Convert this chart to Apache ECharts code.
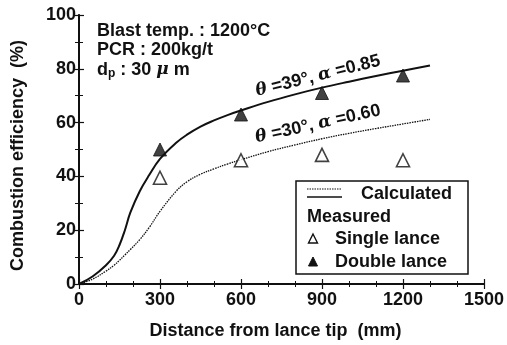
<!DOCTYPE html>
<html>
<head>
<meta charset="utf-8">
<script src="https://cdn.jsdelivr.net/npm/echarts@6/dist/echarts.min.js"></script>
<style>
html,body{margin:0;padding:0;background:#fff;}
#chart{width:507px;height:345px;}
</style>
</head>
<body>
<div id="chart"></div>
<script>
// ---- data ----
const measuredX = [300, 600, 900, 1200];
const singleLance = [39.5, 46, 48, 46];
const doubleLance = [50, 63, 71, 77.5];

const calcX = [0, 50, 100, 130, 150, 170, 190, 225, 260, 300, 360, 400, 450, 500, 550, 600, 700, 800, 900, 1000, 1100, 1200, 1300];
const calc39 = [0, 2.8, 7, 10.5, 14.5, 20, 26.5, 34.5, 40.5, 46.5, 52.5, 55.5, 58.5, 60.8, 62.8, 64.5, 67.7, 70.5, 73, 75.2, 77.3, 79.3, 81.2];
const calc30 = [0, 1.8, 4.8, 7, 8.8, 10.8, 12.8, 16.5, 21, 27, 34.5, 38, 40.8, 42.8, 44.6, 46.2, 49.2, 51.7, 54, 56, 57.8, 59.5, 61.2];

const xTicks = [0, 300, 600, 900, 1200, 1500];
const yTicks = [0, 20, 40, 60, 80, 100];

const condLines = ['Blast temp. : 1200°C', 'PCR : 200kg/t', 'd{sub|p} : 30 {i|μ} m'];
const label39 = '{i|θ} =39°, {i|α} =0.85';
const label30 = '{i|θ} =30°, {i|α} =0.60';

const FONT = '"Liberation Sans", Arial, sans-serif';
const ink = '#111';
const FS = 18;

const zip = (xs, ys) => xs.map((x, i) => [x, ys[i]]);

const chart = echarts.init(document.getElementById('chart'), null, {renderer: 'canvas'});

const commonAxisLine = {show: true, lineStyle: {color: ink, width: 2}};

const option = {
  backgroundColor: '#fff',
  animation: false,
  grid: {left: 79, right: 22, top: 15, bottom: 61, containLabel: false},
  xAxis: [{
    type: 'value', min: 0, max: 1500, interval: 300,
    axisLine: commonAxisLine,
    axisTick: {show: true, inside: true, length: 5, lineStyle: {color: ink, width: 1.2}},
    minorTick: {show: true, splitNumber: 3, length: 3, lineStyle: {color: ink, width: 1}},
    splitLine: {show: false},
    axisLabel: {margin: 7, color: ink, fontFamily: FONT, fontWeight: 'bold', fontSize: FS,
      formatter: v => xTicks.includes(v) ? String(v) : ''},
    name: 'Distance from lance tip  (mm)', nameLocation: 'middle', nameGap: 38,
    nameTextStyle: {color: ink, fontFamily: FONT, fontWeight: 'bold', fontSize: FS, padding: [0, 12, 0, 0]}
  }, {
    type: 'value', position: 'top', min: 0, max: 1500, interval: 300,
    axisLine: {show: true, lineStyle: {color: ink, width: 1.5}},
    axisTick: {show: true, inside: true, length: 5, lineStyle: {color: ink, width: 1.2}},
    minorTick: {show: true, splitNumber: 3, length: 3, lineStyle: {color: ink, width: 1}},
    splitLine: {show: false}, axisLabel: {show: false}
  }],
  yAxis: [{
    type: 'value', min: 0, max: 100, interval: 20,
    axisLine: commonAxisLine,
    axisTick: {show: true, inside: true, length: 5, lineStyle: {color: ink, width: 1.2}},
    minorTick: {show: true, splitNumber: 2, length: 4, lineStyle: {color: ink, width: 1}},
    splitLine: {show: false},
    axisLabel: {margin: 3, color: ink, fontFamily: FONT, fontWeight: 'bold', fontSize: FS,
      formatter: v => yTicks.includes(v) ? String(v) : ''},
    name: 'Combustion efficiency  (%)', nameLocation: 'middle', nameGap: 52,
    nameTextStyle: {color: ink, fontFamily: FONT, fontWeight: 'bold', fontSize: FS, padding: [0, 12, 0, 0]}
  }, {
    type: 'value', position: 'right', min: 0, max: 100, interval: 20,
    axisLine: {show: true, lineStyle: {color: ink, width: 1.5}},
    axisTick: {show: true, inside: true, length: 5, lineStyle: {color: ink, width: 1.2}},
    minorTick: {show: true, splitNumber: 2, length: 4, lineStyle: {color: ink, width: 1}},
    splitLine: {show: false}, axisLabel: {show: false}
  }],
  series: [{
    name: 'θ=39°, α=0.85', type: 'line', data: zip(calcX, calc39), smooth: 0.4,
    symbol: 'none', lineStyle: {color: ink, width: 2}, z: 2
  }, {
    name: 'θ=30°, α=0.60', type: 'line', data: zip(calcX, calc30), smooth: 0.4,
    symbol: 'none', lineStyle: {color: ink, width: 1.3, type: [1.5, 1]}, z: 2
  }, {
    name: 'Single lance', type: 'scatter', data: zip(measuredX, singleLance),
    symbol: 'triangle', symbolSize: 13,
    itemStyle: {color: '#fff', borderColor: ink, borderWidth: 1.6}, z: 3
  }, {
    name: 'Double lance', type: 'scatter', data: zip(measuredX, doubleLance),
    symbol: 'triangle', symbolSize: 13,
    itemStyle: {color: ink, borderColor: ink, borderWidth: 1}, z: 3
  }],
  graphic: []
};

const rich = {
  i: {fontFamily: '"DejaVu Serif", serif', fontStyle: 'italic', fontWeight: 'bold', fontSize: 17, fill: ink},
  sub: {fontFamily: FONT, fontWeight: 'bold', fontSize: 12, fill: ink, padding: [8, 0, 0, 0]}
};

const g = [];
condLines.forEach((t, k) => {
  g.push({type: 'text', x: 97, y: 31 + k * 19.5, z: 10,
    style: {text: t, font: 'bold ' + FS + 'px ' + FONT, fill: ink, textVerticalAlign: 'middle', textAlign: 'left', rich: rich}});
});
g.push({type: 'text', x: 318, y: 76, rotation: 14 * Math.PI / 180, z: 10,
  style: {text: label39, font: 'bold ' + FS + 'px ' + FONT, fill: ink, textAlign: 'center', textVerticalAlign: 'middle', rich: rich}});
g.push({type: 'text', x: 318, y: 124, rotation: 12.5 * Math.PI / 180, z: 10,
  style: {text: label30, font: 'bold ' + FS + 'px ' + FONT, fill: ink, textAlign: 'center', textVerticalAlign: 'middle', rich: rich}});

// legend box
g.push({type: 'rect', z: 10, shape: {x: 296, y: 181, width: 172, height: 93},
  style: {fill: '#fff', stroke: ink, lineWidth: 1.5}});
g.push({type: 'line', z: 11, shape: {x1: 307, y1: 189, x2: 342, y2: 189},
  style: {stroke: ink, lineWidth: 1.2, lineDash: [1.5, 1]}});
g.push({type: 'line', z: 11, shape: {x1: 307, y1: 197, x2: 342, y2: 197},
  style: {stroke: ink, lineWidth: 1.6}});
g.push({type: 'text', z: 11, x: 361, y: 194,
  style: {text: 'Calculated', font: 'bold ' + FS + 'px ' + FONT, fill: ink, textVerticalAlign: 'middle'}});
g.push({type: 'text', z: 11, x: 307, y: 217,
  style: {text: 'Measured', font: 'bold ' + FS + 'px ' + FONT, fill: ink, textVerticalAlign: 'middle'}});
g.push({type: 'polygon', z: 11, shape: {points: [[313, 234], [308.5, 243], [317.5, 243]]},
  style: {fill: '#fff', stroke: ink, lineWidth: 1.4}});
g.push({type: 'text', z: 11, x: 335, y: 239,
  style: {text: 'Single lance', font: 'bold ' + FS + 'px ' + FONT, fill: ink, textVerticalAlign: 'middle'}});
g.push({type: 'polygon', z: 11, shape: {points: [[313, 257], [308.5, 266], [317.5, 266]]},
  style: {fill: ink, stroke: ink, lineWidth: 1}});
g.push({type: 'text', z: 11, x: 335, y: 262,
  style: {text: 'Double lance', font: 'bold ' + FS + 'px ' + FONT, fill: ink, textVerticalAlign: 'middle'}});

option.graphic = g;
chart.setOption(option);
</script>
</body>
</html>
